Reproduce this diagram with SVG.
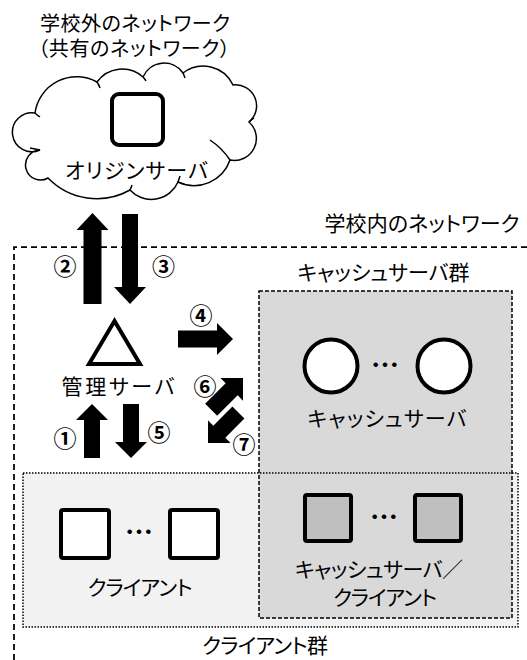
<svg xmlns="http://www.w3.org/2000/svg" width="527" height="660" viewBox="0 0 527 660">
<defs>
<style>
text{font-family:"Noto Sans CJK JP","Noto Sans CJK SC",sans-serif;font-size:21px;fill:#000;text-anchor:middle;dominant-baseline:central;font-feature-settings:"palt"}
.title{font-size:20px}
.num{font-size:23px;font-weight:bold;font-feature-settings:normal}
.dots{font-size:28px;font-weight:bold;font-feature-settings:normal}
.arrow{fill:#000;stroke:none}
.node{fill:#fff;stroke:#000;stroke-width:4}
.gray{fill:#bfbfbf;stroke:#000;stroke-width:4}
.curl{fill:none;stroke:#000;stroke-width:1.5}
</style>
</defs>
<rect width="527" height="660" fill="#fff"/>

<g id="groups-fill">
<rect x="23" y="473" width="495" height="154" fill="#f2f2f2"/>
<rect x="259" y="291" width="253" height="327" fill="#d9d9d9"/>
</g>
<g id="school-network">
<path d="M14,660 V247 H527" fill="none" stroke="#000" stroke-width="1.75" stroke-dasharray="6 4"/>
<text x="422" y="221.5" textLength="195">学校内のネットワーク</text>
</g>
<g id="cache-group">
<rect x="259" y="291" width="253" height="327" fill="none" stroke="#000" stroke-width="1.5" stroke-dasharray="4 2"/>
<text x="383.5" y="270.5" textLength="172">キャッシュサーバ群</text>
</g>
<g id="client-group">
<rect x="23" y="473" width="495" height="154" fill="none" stroke="#000" stroke-width="1.5" stroke-dasharray="1.5 1.5"/>
<text x="265" y="644" textLength="126">クライアント群</text>
</g>

<g id="outside-network">
<text class="title" x="135" y="22.5" textLength="190">学校外のネットワーク</text>
<text class="title" x="134" y="47" textLength="192">（共有のネットワーク）</text>
<path fill="#fff" stroke="#000" stroke-width="1.5" d="M35,113 A42 42 0 0 1 97,82 A31 31 0 0 1 143,77 A23 23 0 0 1 183,73 A33 33 0 0 1 233,85 A21 21 0 0 1 249,122 A22 22 0 0 1 230,160 A38 38 0 0 1 178,182 A29 29 0 0 1 130,190 A68 68 0 0 1 48,178 A15 15 0 1 1 40,150 A19.5 19.5 0 1 1 35,113 Z"/>
<path class="curl" d="M97,82 Q99,85 100,88 M143,77 Q145,79 146,81 M183,73 Q184,75 185,78 M249,122 Q251,120 254,118 M230,160 Q222,148 210,140 M178,182 Q179,179 180,176 M130,190 Q131,188 132,185 M40,150 Q35,149 30,148 M35,113 Q37,115 40,117"/>
</g>
<g id="origin-server">
<rect class="node" x="112" y="94" width="51" height="51" rx="7"/>
<text x="136.5" y="169" textLength="143">オリジンサーバ</text>
</g>

<g id="management-server">
<polygon class="node" points="114.5,321 89,364 140,364" stroke-linejoin="miter"/>
<text x="118" y="385" textLength="113">管理サーバ</text>
</g>

<g id="cache-servers">
<circle class="node" cx="331" cy="366" r="26.5" stroke-width="3.5"/>
<text class="dots" x="385" y="364">…</text>
<circle class="node" cx="444" cy="366" r="26.5" stroke-width="3.5"/>
<text x="387" y="417" textLength="159">キャッシュサーバ</text>
</g>

<g id="clients">
<rect class="node" x="61" y="510" width="48" height="48" rx="2"/>
<text class="dots" x="139" y="531">…</text>
<rect class="node" x="170" y="510" width="48" height="48" rx="2"/>
<text x="140" y="586" textLength="105">クライアント</text>
</g>

<g id="cache-server-clients">
<rect class="gray" x="305" y="495" width="46" height="46" rx="2"/>
<text class="dots" x="384" y="516">…</text>
<rect class="gray" x="415" y="495" width="46" height="46" rx="2"/>
<text x="379" y="568" textLength="168">キャッシュサーバ／</text>
<text x="385" y="596" textLength="104">クライアント</text>
</g>

<g id="connectors">
<polygon class="arrow" points="92.5,213 108.5,230 101.5,230 101.5,304 83.5,304 83.5,230 76.5,230"/>
<polygon class="arrow" points="122,214 138,214 138,287 146,287 130,304 114,287 122,287"/>
<polygon class="arrow" points="178,330.5 217,330.5 217,323 233,339 217,355 217,347.5 178,347.5"/>
<polygon class="arrow" points="92,404 108,420 100,420 100,458 84,458 84,420 76,420"/>
<polygon class="arrow" points="123,404 139,404 139,442 147,442 131,458 115,442 123,442"/>
<polygon class="arrow" transform="translate(243,378) rotate(-45)" points="0,0 -16,-16 -16,-8.5 -45,-8.5 -45,8.5 -16,8.5 -16,16"/>
<polygon class="arrow" transform="translate(208,443) rotate(135)" points="0,0 -16,-16 -16,-8.5 -43,-8.5 -43,8.5 -16,8.5 -16,16"/>
<text class="num" x="65" y="437">①</text>
<text class="num" x="65" y="265">②</text>
<text class="num" x="163.5" y="265">③</text>
<text class="num" x="201" y="314">④</text>
<text class="num" x="159" y="431">⑤</text>
<text class="num" x="205" y="385">⑥</text>
<text class="num" x="244" y="443">⑦</text>
</g>
</svg>
